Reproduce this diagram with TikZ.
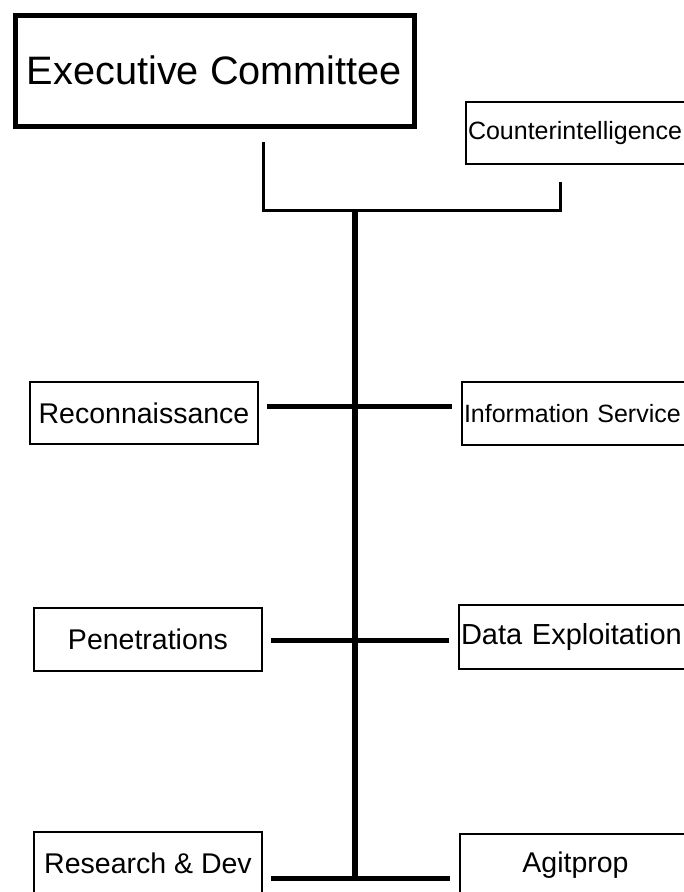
\documentclass[tikz,border=0pt]{standalone}
\usepackage{fontspec}
\setmainfont{Liberation Sans}
\usepackage{tikz}
\tikzset{>=latex}
\newcommand{\boxfont}{\fontsize{28.5}{31}\selectfont}
\newcommand{\smallboxfont}{\fontsize{25}{28}\selectfont}

\begin{document}
\begin{tikzpicture}[x=1pt,y=-1pt,
    unit/.style={draw,line width=2pt,rectangle,inner sep=0pt,anchor=north west,
      minimum height=62pt,font=\boxfont},
    lunit/.style={unit,text width=243pt,align=left,inner xsep=2pt},
    link/.style={line width=3pt},
    branch/.style={line width=5pt,shorten <=8pt,shorten >=9pt}]
  \useasboundingbox (0,0) rectangle (684,892);
  \clip (0,0) rectangle (684,892);
  \node[draw,line width=5pt,anchor=north west,minimum width=399pt,minimum height=111pt,
    inner sep=0pt,font=\fontsize{39.7}{44}\selectfont] (exec) at (12.5,12.5) {Executive Committee};
  \node[lunit,font=\smallboxfont] (ci) at (465,101) {Counterintelligence};
  \node[unit,minimum width=228pt] (recon) at (29,381) {Reconnaissance};
  \node[lunit,minimum height=63pt,font=\smallboxfont] (info) at (461,381) {Information Service};
  \node[unit,minimum width=228pt,minimum height=63pt] (pen) at (33,607) {Penetrations};
  \node[lunit,minimum height=64pt,font=\fontsize{29}{31}\selectfont] (dexp) at (458,604) {Data Exploitation};
  \node[unit,minimum width=228pt] (rnd) at (33,831) {Research \& Dev};
  \node[unit,minimum width=231pt] (agit) at (459,833) {Agitprop};
  % trunk and junctions
  \coordinate (ja) at (263,210);
  \coordinate (jb) at (560,210);
  \coordinate (top) at (355,210);
  \coordinate (r1) at (355,406);
  \coordinate (r2) at (355,640);
  \coordinate (bot) at (355,878);
  \draw[link,shorten <=13.5pt,shorten >=17pt] (exec.south -| ja) -- (ja) -- (jb) -- (ci.south -| jb);
  \draw[line width=6pt] (top) -- (bot);
  \foreach \l/\r/\j in {recon/info/r1,pen/dexp/r2,rnd/agit/bot}
    \draw[branch] (\l.east |- \j) -- (\r.west |- \j);
\end{tikzpicture}
\end{document}
